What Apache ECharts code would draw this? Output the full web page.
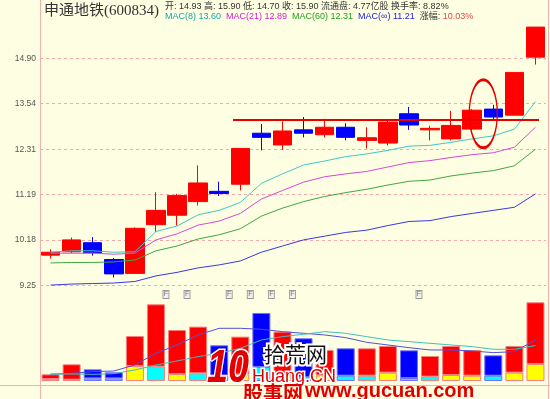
<!DOCTYPE html>
<html>
<head>
<meta charset="utf-8">
<script src="https://cdn.jsdelivr.net/npm/echarts@6/dist/echarts.min.js"></script>
<style>
html, body { margin: 0; padding: 0; background: #fefee2; }
#chart { width: 550px; height: 399px; }
</style>
</head>
<body>
<div id="chart"></div>
<script>
// daily candles, oldest first
var days = ['1','2','3','4','5','6','7','8','9','10','11','12','13','14','15','16','17','18','19','20','21','22','23','24'];
var opens  = [9.86, 9.93, 10.12, 9.77, 9.49, 10.51, 10.72, 11.03, 11.27, 11.44, 12.73, 12.42, 12.82, 12.69, 12.89, 12.54, 12.47, 13.26, 12.82, 12.58, 12.84, 13.39, 13.22, 14.93];
var closes = [9.92, 10.18, 9.91, 9.48, 10.43, 10.83, 11.17, 11.47, 11.22, 12.33, 12.62, 12.79, 12.73, 12.89, 12.62, 12.61, 13.03, 12.95, 12.86, 12.94, 13.36, 13.17, 14.46, 15.90];
var lows   = [9.79, 9.90, 9.85, 9.41, 9.48, 10.35, 10.49, 10.94, 11.16, 11.29, 12.28, 12.29, 12.62, 12.62, 12.54, 12.33, 12.41, 12.82, 12.54, 12.54, 12.79, 13.11, 13.22, 14.70];
var highs  = [9.98, 10.23, 10.24, 9.80, 10.45, 11.25, 11.21, 11.90, 11.50, 12.34, 12.98, 13.05, 13.17, 13.12, 13.00, 12.89, 13.09, 13.45, 12.93, 13.34, 13.39, 13.51, 14.47, 15.90];

// moving averages as drawn
var ma8   = [9.92, 9.95, 9.95, 9.92, 9.93, 10.36, 10.48, 10.73, 10.83, 11.01, 11.46, 11.69, 11.91, 12.01, 12.12, 12.19, 12.28, 12.39, 12.41, 12.49, 12.58, 12.66, 12.84, 13.60];
var ma21  = [9.90, 9.90, 9.90, 9.88, 9.90, 10.18, 10.31, 10.50, 10.59, 10.76, 11.09, 11.29, 11.49, 11.62, 11.69, 11.75, 11.86, 11.97, 12.02, 12.10, 12.17, 12.22, 12.36, 12.89];
var ma60  = [9.70, 9.71, 9.71, 9.72, 9.76, 9.95, 10.05, 10.20, 10.29, 10.42, 10.70, 10.88, 11.03, 11.15, 11.24, 11.32, 11.42, 11.51, 11.54, 11.64, 11.71, 11.77, 11.89, 12.31];
var maAll = [9.26, 9.28, 9.29, 9.30, 9.33, 9.44, 9.51, 9.60, 9.66, 9.74, 9.92, 10.05, 10.18, 10.26, 10.34, 10.39, 10.49, 10.58, 10.60, 10.69, 10.76, 10.83, 10.90, 11.21];

// volume (wan shou), lower coloured part, and its colour (y = yellow, c = cyan)
var volumes   = [3.57, 8.92, 6.24, 4.64, 24.07, 41.0, 27.28, 29.06, 19.08, 23.71, 36.37, 26.39, 22.82, 16.6, 17.47, 17.47, 18.72, 16.40, 13.37, 18.72, 16.58, 13.73, 18.72, 42.07];
var volLower  = [1.0, 0.7, 1.4, 1.4, 8.02, 7.67, 3.74, 4.1, 3.0, 3.5, 7.5, 3.0, 2.0, 3.0, 2.85, 2.85, 4.46, 1.6, 2.32, 3.2, 2.85, 2.85, 4.46, 9.09];
var lowerKind = ['y','y','c','c','y','c','y','c','c','y','c','y','c','y','c','c','y','c','c','y','y','c','y','y'];
var volMa5    = [3.57, 4.10, 4.99, 5.35, 8.56, 14.80, 19.26, 24.61, 28.17, 28.17, 27.64, 26.39, 25.50, 24.61, 23.18, 20.68, 19.26, 17.83, 16.58, 16.58, 16.05, 15.16, 15.69, 21.93];
var volMa10   = [3.74, 3.74, 3.57, 3.92, 5.88, 8.56, 10.70, 13.02, 14.80, 17.47, 21.93, 23.71, 24.96, 26.39, 25.50, 23.71, 21.93, 21.04, 20.15, 19.26, 18.36, 16.94, 16.94, 18.90];

// price axis labels (10% steps), news markers, resistance line, circled day
var priceTicks = ['9.25', '10.18', '11.19', '12.31', '13.54', '14.90'];
var newsDays = [5, 6, 8, 9, 10, 11, 17];
var resistance = 13.09;
var lineFrom = 9, lineTo = 23;
var circledDay = 21, circledPrice = 13.26;
var floatShares = '4.77亿股', turnover = '8.82%', change = '10.03%';

// price axis is logarithmic: one tick per 10%
var base = 9.25, step = 1.1;
function lg(p) { return Math.log(p / base) / Math.log(step); }
function r2(v) { return v.toFixed(2); }

var candles = days.map(function (d, i) {
    return [lg(opens[i]), lg(closes[i]), lg(lows[i]), lg(highs[i])];
});
function maLine(arr) { return arr.map(lg); }

var RED = '#ff0000', BLUE = '#0000ff';
var last = days.length - 1;

var volTop = volumes.map(function (v, i) {
    var up = closes[i] >= opens[i];
    return { value: v - volLower[i], itemStyle: { color: up ? RED : BLUE, borderColor: up ? '#f48080' : '#7070ff' } };
});
var volBottom = volLower.map(function (v, i) {
    var up = closes[i] >= opens[i];
    return { value: v, itemStyle: { color: lowerKind[i] == 'y' ? '#ffff00' : '#00ffff', borderColor: up ? '#f48080' : '#7070ff' } };
});

var small = "'Liberation Sans', 'Noto Sans CJK SC', sans-serif";
var cjk = "'Noto Sans CJK SC', sans-serif";

var myChart = echarts.init(document.getElementById('chart'));

var option = {
    backgroundColor: '#fefee2',
    animation: false,
    title: [
        {
            text: '申通地铁(600834)', left: 44, top: 4, padding: 0,
            textStyle: { fontSize: 15, fontWeight: 'normal', color: '#333', fontFamily: "'Liberation Serif', 'Noto Sans CJK SC', serif" }
        },
        {
            text: '开: ' + r2(opens[last]) + ' 高: ' + r2(highs[last]) + ' 低: ' + r2(lows[last]) + ' 收: ' + r2(closes[last]) +
                ' 流通盘: ' + floatShares + ' 换手率: ' + turnover,
            left: 165, top: 2, padding: 0,
            textStyle: { fontSize: 9, fontWeight: 'normal', color: '#333', fontFamily: small }
        },
        {
            text: '{a|MAC(8) ' + r2(ma8[last]) + '}  {b|MAC(21) ' + r2(ma21[last]) + '}  {c|MAC(60) ' + r2(ma60[last]) +
                '}  {d|MAC(∞) ' + r2(maAll[last]) + '}  {e|涨幅: }{f|' + change + '}',
            left: 165, top: 12, padding: 0,
            textStyle: {
                fontSize: 9, fontWeight: 'normal', fontFamily: small,
                rich: {
                    a: { color: '#18a8a8', fontSize: 9, fontFamily: small },
                    b: { color: '#d020d0', fontSize: 9, fontFamily: small },
                    c: { color: '#20a020', fontSize: 9, fontFamily: small },
                    d: { color: '#2020e0', fontSize: 9, fontFamily: small },
                    e: { color: '#333', fontSize: 9, fontFamily: small },
                    f: { color: '#e04848', fontSize: 9, fontFamily: small }
                }
            }
        }
    ],
    grid: [
        { left: 40, right: 4, top: 20, bottom: 113.4 },
        { left: 40, right: 4, top: 300, bottom: 14 }
    ],
    xAxis: [
        { type: 'category', data: days, gridIndex: 0, show: false },
        { type: 'category', data: days, gridIndex: 1, show: false }
    ],
    yAxis: [
        {
            type: 'value', gridIndex: 0, min: 0, max: 5.84, interval: 1,
            axisLine: { show: false }, axisTick: { show: false },
            axisLabel: {
                color: '#555', fontSize: 8.5, fontFamily: small, margin: 4, showMaxLabel: false,
                formatter: function (v) {
                    var i = Math.round(v);
                    return Math.abs(v - i) < 1e-6 && priceTicks[i] ? priceTicks[i] : '';
                }
            },
            splitLine: { show: true, showMaxLine: false, lineStyle: { color: '#f4a8a8', type: [3, 3], width: 1 } }
        },
        { type: 'value', gridIndex: 1, min: -2.14, max: 43.3, show: false }
    ],
    series: [
        {
            type: 'candlestick', xAxisIndex: 0, yAxisIndex: 0, data: candles, barWidth: 19,
            itemStyle: { color: RED, color0: BLUE, borderColor: RED, borderColor0: BLUE, borderWidth: 1 },
            markLine: {
                silent: true, symbol: ['none', 'none'], label: { show: false },
                lineStyle: { color: '#e80000', width: 2, type: 'solid' },
                data: [[{ coord: [lineFrom, lg(resistance)], x: 233 }, { coord: [lineTo, lg(resistance)], x: 539 }]]
            },
            markPoint: {
                silent: true, symbol: 'circle', symbolSize: [28, 68], symbolOffset: [-10, 0], label: { show: false },
                itemStyle: { color: 'rgba(0,0,0,0)', borderColor: '#e80000', borderWidth: 2 },
                data: [{ coord: [circledDay, lg(circledPrice)] }]
            }
        },
        { type: 'line', data: maLine(ma8), symbol: 'none', lineStyle: { color: '#40c8c8', width: 1 }, z: 3 },
        { type: 'line', data: maLine(ma21), symbol: 'none', lineStyle: { color: '#d848d8', width: 1 }, z: 3 },
        { type: 'line', data: maLine(ma60), symbol: 'none', lineStyle: { color: '#40a840', width: 1 }, z: 3 },
        { type: 'line', data: maLine(maAll), symbol: 'none', lineStyle: { color: '#3838e8', width: 1 }, z: 3 },
        {
            type: 'scatter', xAxisIndex: 0, yAxisIndex: 0, clip: false,
            data: newsDays.map(function (i) { return [i, -0.196]; }),
            symbol: 'rect', symbolSize: [6, 8], symbolOffset: [10, 0],
            itemStyle: { color: '#eeeeee', borderColor: '#808080', borderWidth: 1 },
            label: { show: true, position: 'inside', formatter: 'F', fontSize: 7, color: '#555', fontFamily: small }
        },
        { type: 'bar', xAxisIndex: 1, yAxisIndex: 1, stack: 'v', barWidth: 18, data: volBottom, itemStyle: { borderWidth: 1 } },
        { type: 'bar', xAxisIndex: 1, yAxisIndex: 1, stack: 'v', barWidth: 18, data: volTop, itemStyle: { borderWidth: 1 } },
        { type: 'line', xAxisIndex: 1, yAxisIndex: 1, data: volMa5, symbol: 'none', lineStyle: { color: '#5050e0', width: 1 }, z: 4 },
        { type: 'line', xAxisIndex: 1, yAxisIndex: 1, data: volMa10, symbol: 'none', lineStyle: { color: '#40c0c0', width: 1 }, z: 4 }
    ],
    graphic: [
        { type: 'line', shape: { x1: 40.5, y1: 0, x2: 40.5, y2: 399 }, style: { stroke: '#f4b0b0', lineWidth: 1 }, z: 1 },
        { type: 'line', shape: { x1: 548.5, y1: 0, x2: 548.5, y2: 399 }, style: { stroke: '#f4b0b0', lineWidth: 1 }, z: 1 },
        { type: 'line', shape: { x1: 0, y1: 385.5, x2: 550, y2: 385.5 }, style: { stroke: '#f4b0b0', lineWidth: 1 }, z: 1 },
        // watermark
        { type: 'text', x: 207, y: 346, scaleX: 0.82, z: 100,
          style: { text: '10', font: 'bold italic 46px Liberation Sans', fill: '#e00000', stroke: '#ffffff', lineWidth: 3, strokeFirst: true, verticalAlign: 'top', align: 'left' } },
        { type: 'text', x: 264, y: 344, z: 100,
          style: { text: '拾荒网', font: '21px ' + cjk, fill: '#111', stroke: '#ffffff', lineWidth: 4, strokeFirst: true, verticalAlign: 'top', align: 'left' } },
        { type: 'text', x: 252, y: 368, z: 100,
          style: { text: 'Huang.CN', font: '18px Liberation Sans', fill: '#e00000', stroke: '#ffffff', lineWidth: 3, strokeFirst: true, verticalAlign: 'top', align: 'left' } },
        { type: 'text', x: 243, y: 383, z: 100,
          style: { text: '股事网', font: 'bold 20px ' + cjk, fill: '#e00000', verticalAlign: 'top', align: 'left' } },
        { type: 'text', x: 305, y: 381, z: 100,
          style: { text: 'www.gucuan.com', font: 'bold 20px Liberation Sans', fill: '#e00000', verticalAlign: 'top', align: 'left' } }
    ]
};

myChart.setOption(option);
</script>
</body>
</html>
